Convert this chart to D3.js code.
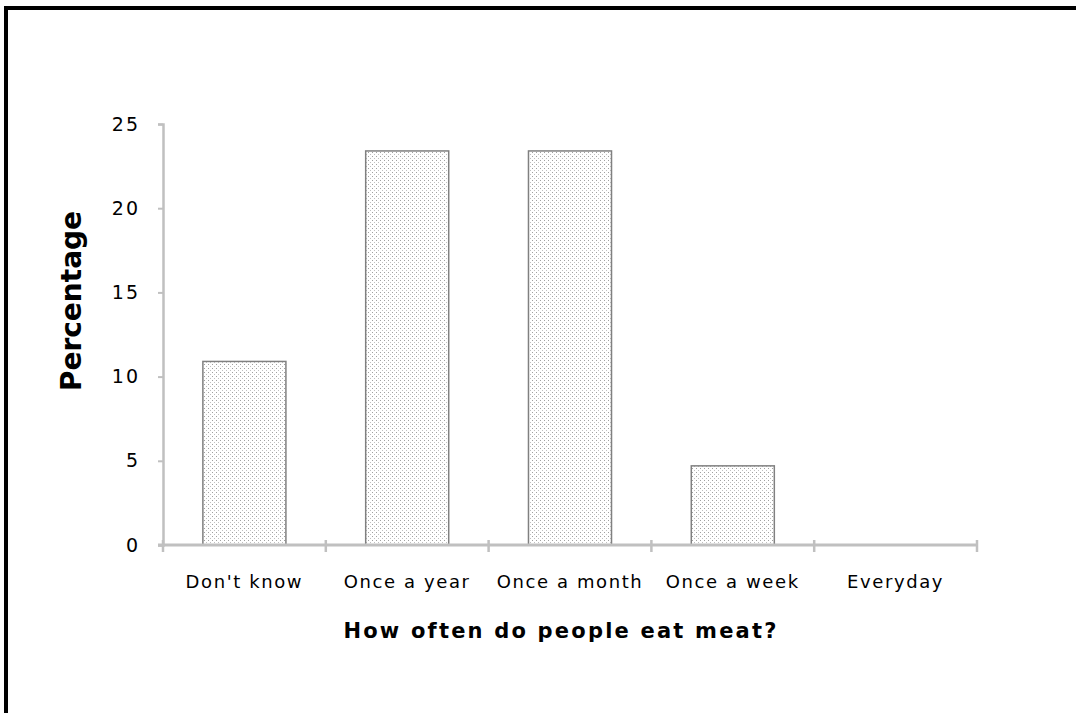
<!DOCTYPE html>
<html>
<head>
<meta charset="utf-8">
<script src="https://cdn.jsdelivr.net/npm/d3@7"></script>
<style>
  body { margin: 0; background: #fff; }
  text { font-family: "DejaVu Sans", Verdana, sans-serif; }
</style>
</head>
<body>
<div id="chart"></div>
<script>
const categories = ["Don't know", "Once a year", "Once a month", "Once a week", "Everyday"]
const percentages = [10.9, 23.4, 23.4, 4.7, 0]
const yTicks = [0, 5, 10, 15, 20, 25]

const width = 1076
const height = 713
const margin = { top: 124, right: 99, bottom: 168, left: 163 }

const svg = d3.select("#chart")
  .append("svg")
  .attr("width", width)
  .attr("height", height)

// dotted fill like the old excel pattern
const pattern = svg.append("defs")
  .append("pattern")
  .attr("id", "dots")
  .attr("width", 4)
  .attr("height", 4)
  .attr("patternUnits", "userSpaceOnUse")
pattern.append("rect").attr("width", 4).attr("height", 4).attr("fill", "#fff")
pattern.append("rect").attr("x", 0).attr("y", 0).attr("width", 1).attr("height", 1).attr("fill", "#a0a0a0")
pattern.append("rect").attr("x", 2).attr("y", 2).attr("width", 1).attr("height", 1).attr("fill", "#c0c0c0")

// frame, only top and left edges show
svg.append("path")
  .attr("d", "M6,713V8H1076")
  .attr("fill", "none")
  .attr("stroke", "#000")
  .attr("stroke-width", 4)

const x = d3.scaleBand()
  .domain(categories)
  .range([margin.left, width - margin.right])
  .paddingInner(0)

const y = d3.scaleLinear()
  .domain([0, 25])
  .range([height - margin.bottom, margin.top])

const axisColor = "#c0c0c0"

// y axis
const yAxis = svg.append("g")
  .attr("transform", `translate(${margin.left},0)`)
  .call(d3.axisLeft(y).tickValues(yTicks).tickSize(5).tickPadding(18))
yAxis.select(".domain").attr("stroke", axisColor).attr("stroke-width", 2.5)
yAxis.selectAll(".tick line").attr("stroke", axisColor).attr("stroke-width", 2)
yAxis.selectAll(".tick text")
  .attr("fill", "#000")
  .style("font-size", "19px")
  .style("letter-spacing", "2px")

// bars
const barWidth = x.bandwidth() * 0.51
svg.selectAll("rect.bar")
  .data(percentages)
  .enter()
    .append("rect")
    .attr("class", "bar")
    .attr("x", (d, i) => x(categories[i]) + (x.bandwidth() - barWidth) / 2)
    .attr("y", d => y(d))
    .attr("width", barWidth)
    .attr("height", d => y(0) - y(d))
    .attr("fill", "url(#dots)")
    .attr("stroke", d => d > 0 ? "#808080" : "none")
    .attr("stroke-width", 1.5)

// x axis, ticks at the category boundaries
const xBase = y(0)
const bounds = categories.map(c => x(c)).concat([x.range()[1]])
svg.append("line")
  .attr("x1", margin.left - 5)
  .attr("x2", x.range()[1])
  .attr("y1", xBase)
  .attr("y2", xBase)
  .attr("stroke", axisColor)
  .attr("stroke-width", 3)
svg.selectAll("line.xtick")
  .data(bounds)
  .enter()
    .append("line")
    .attr("class", "xtick")
    .attr("x1", d => d)
    .attr("x2", d => d)
    .attr("y1", xBase - 5)
    .attr("y2", xBase + 7)
    .attr("stroke", axisColor)
    .attr("stroke-width", 2.5)

svg.selectAll("text.xlabel")
  .data(categories)
  .enter()
    .append("text")
    .attr("class", "xlabel")
    .attr("x", d => x(d) + x.bandwidth() / 2)
    .attr("y", 588)
    .attr("text-anchor", "middle")
    .style("font-size", "18px")
    .style("letter-spacing", "1.6px")
    .text(d => d)

// axis titles
svg.append("text")
  .attr("transform", "translate(81,301) rotate(-90)")
  .attr("text-anchor", "middle")
  .style("font-size", "28px")
  .style("font-weight", "bold")
  .text("Percentage")

svg.append("text")
  .attr("x", 561)
  .attr("y", 638)
  .attr("text-anchor", "middle")
  .style("font-size", "21px")
  .style("font-weight", "bold")
  .style("letter-spacing", "2.2px")
  .text("How often do people eat meat?")
</script>
</body>
</html>
